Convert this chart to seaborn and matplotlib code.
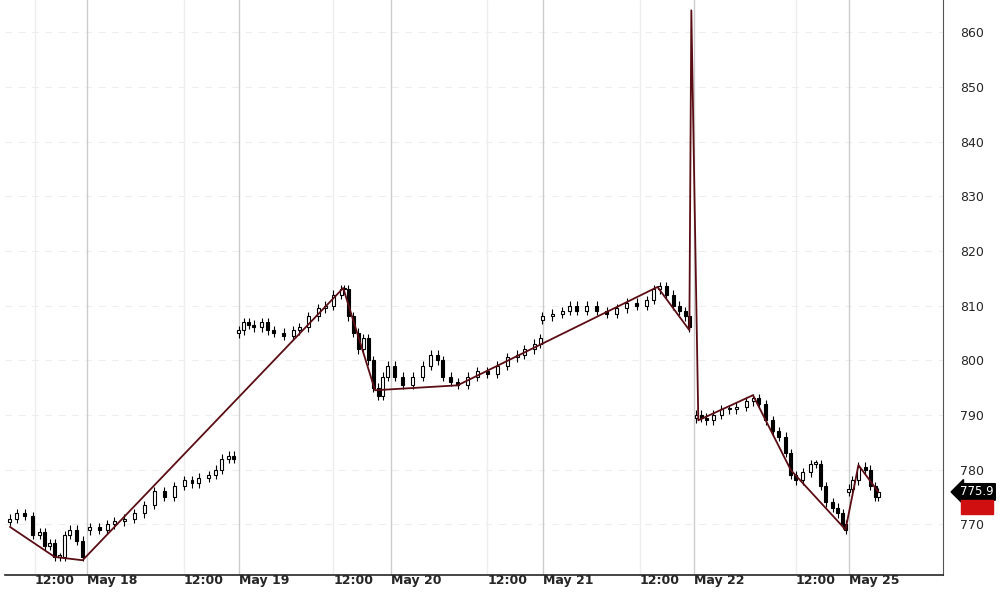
import matplotlib
matplotlib.use('Agg')
import matplotlib.pyplot as plt
import seaborn as sns
import pandas as pd

# bar time position (chart units, 1 day ~ 153) and close price
seg_x = [5, 12, 20, 28, 35, 40, 45, 50, 55, 60, 65, 72, 78,
         85, 95, 103, 110, 120, 130, 140, 150, 160, 170, 180, 188, 195, 205, 212, 218, 225, 230,
         235, 240, 245, 250, 258, 264, 270, 280, 290, 296, 305, 315, 322, 330, 338, 341,
         345, 350, 355, 360, 365, 370, 375, 380, 385, 392, 400, 410, 420, 428, 435, 440, 448,
         455, 465, 475, 485, 495, 505, 515, 522, 532, 538,
         540, 550, 560, 568, 575, 585, 595, 605, 615, 625, 635, 645, 652, 658, 665, 672, 678, 684, 688,
         695, 700, 705, 712, 720, 728, 735, 745, 752, 758, 765, 772, 778, 785, 790, 795, 802, 810, 815,
         820, 825, 832, 837, 842, 845, 848, 852, 858, 865, 870, 875, 878]
closes = [771, 772, 771.5, 768, 768.5, 766, 766.5, 764, 764, 768, 769, 767, 764,
          769.5, 769, 770, 770.5, 771, 772, 773.5, 776, 775, 777, 778, 777.5, 778.5, 779, 780, 782, 782.5, 782,
          805.5, 807, 806.5, 806, 807, 805.5, 805, 804.5, 805.5, 806, 808, 809.5, 810, 812, 813, 813,
          808, 805, 802, 804, 800, 795, 793.5, 797, 799, 797, 795.5, 797, 799, 801, 800, 797, 796,
          795.5, 797, 798, 797.5, 799, 800.5, 801, 802, 803, 804,
          808, 808.5, 809, 810, 809, 810, 809, 808.5, 809.5, 810.5, 810, 811, 813, 813.5, 812, 810, 809, 808, 806,
          790, 789.5, 789, 790, 791, 791, 791.5, 792.5, 793, 792, 789, 787, 786, 783, 779, 778, 779.5, 781, 781,
          777, 774, 773, 772, 770, 769, 776.5, 778, 780.5, 780, 777, 775, 775.9]
# bars that open a new session (no carry-over from previous close)
session_starts = [5, 85, 235, 540, 695, 848]

# swing line points
zz_x = [5, 50, 78, 340, 372, 455, 656, 688, 690, 697, 752, 790, 845, 858, 878]
zz_y = [769.5, 764, 763.4, 813.2, 794.5, 795.4, 813.4, 805.5, 864, 789, 793.6, 779.9, 769, 780.8, 775.9]

tick_pos = [30, 82, 180, 235, 330, 388, 485, 541, 638, 693, 795, 848]
tick_labels = ['12:00', 'May 18', '12:00', 'May 19', '12:00', 'May 20', '12:00', 'May 21',
               '12:00', 'May 22', '12:00', 'May 25']
day_lines = [82, 235, 388, 541, 693, 848]

sns.set_style('white')
fig = plt.figure(figsize=(10, 5.92), dpi=100)
ax = fig.add_axes([0.005, 1 - 575 / 592, 0.938, 575 / 592])

for y in range(770, 861, 10):
    ax.axhline(y, color='#eeeeee', lw=0.8, ls=(0, (6, 6)), zorder=0)
for x in tick_pos:
    ax.axvline(x, color='#cccccc' if x in day_lines else '#eeeeee', lw=1, zorder=0)

df = pd.DataFrame({'x': seg_x, 'close': closes})
df['open'] = df['close'].shift(1).fillna(df['close'])
df.loc[df['x'].isin(session_starts), 'open'] = df['close'] - 0.6
for _, r in df.iterrows():
    lo, hi = min(r.open, r.close), max(r.open, r.close)
    ax.vlines(r.x, lo - 0.8, hi + 0.8, color='black', lw=0.8, zorder=2)
    up = r.close >= r.open
    ax.bar(r.x, max(hi - lo, 0.3), bottom=lo, width=3, color='white' if up else 'black',
           edgecolor='black', lw=0.8, zorder=3)

zz = pd.DataFrame({'x': zz_x, 'y': zz_y})
sns.lineplot(data=zz, x='x', y='y', ax=ax, color='#5a0d14', lw=1.3, sort=False, zorder=4)

ax.set_xlim(0, 943)
ax.set_ylim(760.7, 865.9)
ax.set_xticks(tick_pos)
ax.set_xticklabels(tick_labels, fontsize=9, fontweight='bold', ha='left')
ax.tick_params(axis='x', length=5, direction='in', pad=-1)
ax.yaxis.tick_right()
ax.set_yticks(range(770, 861, 10))
ax.tick_params(axis='y', labelsize=9, length=0, pad=12)
for s in ['top', 'left']:
    ax.spines[s].set_visible(False)
ax.spines['bottom'].set_linewidth(1.2)
ax.spines['right'].set_color('#555555')
ax.set_xlabel('')
ax.set_ylabel('')

ax.text(1.018, 775.9, '775.9', transform=ax.get_yaxis_transform(), fontsize=8.5, color='white',
        va='center', ha='left', bbox=dict(boxstyle='larrow,pad=0.15', fc='black', ec='black'))
ax.text(1.021, 773.2, '         ', transform=ax.get_yaxis_transform(), fontsize=7,
        va='center', ha='left', bbox=dict(boxstyle='square,pad=0.2', fc='#d01010', ec='#d01010'))

fig.savefig('out.png', dpi=100)
